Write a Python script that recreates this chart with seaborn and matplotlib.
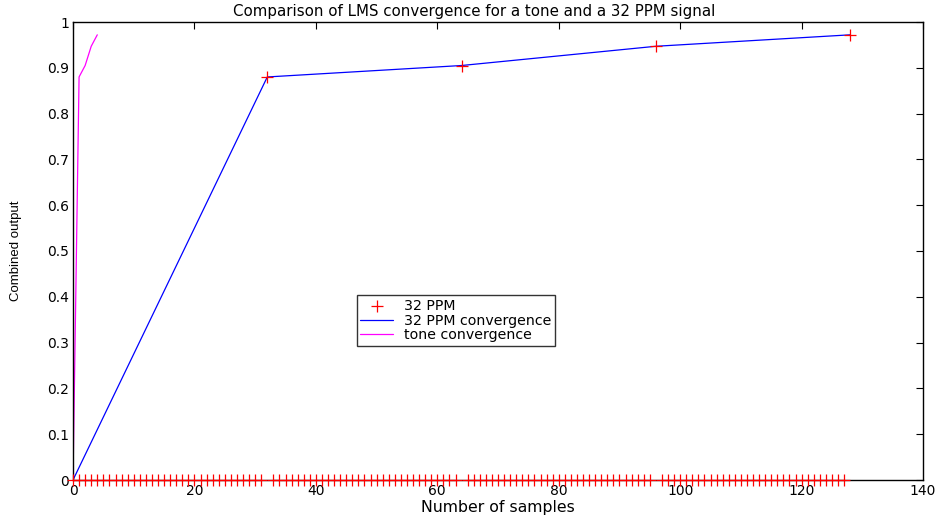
"""
Comparison of LMS convergence for a tone and a 32 PPM signal.
"""

import matplotlib
matplotlib.use('Agg')
import matplotlib.pyplot as plt
import numpy as np
import pandas as pd
import seaborn as sns

# ---------------------------------------------------------------------------
# Data
# ---------------------------------------------------------------------------

ppm_samples   = list(range(0, 129))
ppm_peak_idx  = [32, 64, 96, 128]
ppm_peak_vals = [0.88, 0.905, 0.947, 0.972]

conv_x    = [0, 32, 64, 96, 128]
conv_y    = [0.0, 0.88, 0.905, 0.947, 0.972]
tone_x    = [0, 1, 2, 3, 4]
tone_y    = [0.0, 0.88, 0.905, 0.947, 0.972]

x_ticks = [0, 20, 40, 60, 80, 100, 120, 140]
y_ticks = [0, 0.1, 0.2, 0.3, 0.4, 0.5, 0.6, 0.7, 0.8, 0.9, 1]
y_tick_labels = ['0', '0.1', '0.2', '0.3', '0.4', '0.5', '0.6',
                 '0.7', '0.8', '0.9', '1']

ppm_vals = np.zeros(len(ppm_samples))
for i, v in zip(ppm_peak_idx, ppm_peak_vals):
    ppm_vals[i] = v
ppm_df  = pd.DataFrame({'x': ppm_samples, 'y': ppm_vals})
conv_df = pd.DataFrame({'x': conv_x, 'y': conv_y})
tone_df = pd.DataFrame({'x': tone_x, 'y': tone_y})

# ---------------------------------------------------------------------------
# Plot
# ---------------------------------------------------------------------------

sns.set_style('white')
plt.rcParams['font.family'] = ['DejaVu Sans']
plt.rcParams['text.color']       = 'black'
plt.rcParams['axes.labelcolor']  = 'black'
plt.rcParams['xtick.color']      = 'black'
plt.rcParams['ytick.color']      = 'black'

fig = plt.figure(figsize=(9.4, 5.17), dpi=100)
ax  = fig.add_axes([73 / 940, 37 / 517, 850 / 940, 458 / 517])

sns.scatterplot(data=ppm_df, x='x', y='y', marker='+', s=64, color='red',
                linewidth=0.9, ax=ax, label='32 PPM', zorder=3, clip_on=False)
sns.lineplot(data=conv_df, x='x', y='y', color='blue', linewidth=0.9,
             ax=ax, label='32 PPM convergence', zorder=2)
sns.lineplot(data=tone_df, x='x', y='y', color='magenta', linewidth=0.9,
             ax=ax, label='tone convergence', zorder=2)

ax.set_xlim(0, 140)
ax.set_ylim(0, 1)
ax.set_xticks(x_ticks)
ax.set_yticks(y_ticks)
ax.set_yticklabels(y_tick_labels)
ax.tick_params(direction='in', length=5, width=0.8, top=True, right=True,
               labelsize=10, colors='black', pad=3)
for side in ax.spines.values():
    side.set_color('black')
    side.set_linewidth(1.0)

ax.set_xlabel('Number of samples', fontsize=11.3, labelpad=1, color='black')
ax.set_ylabel('Combined output', fontsize=9.5, labelpad=18,
              family=['Liberation Sans'], color='black')
ax.set_title('Comparison of LMS convergence for a tone and a 32 PPM signal',
             fontsize=10.8, pad=4, x=0.472, color='black')

leg = ax.legend(loc='lower left', bbox_to_anchor=(0.334, 0.293),
                fontsize=10.2, frameon=True, fancybox=False,
                borderpad=0.25, labelspacing=0.05, handlelength=2.3,
                handletextpad=0.8, borderaxespad=0)
leg.get_frame().set_edgecolor('black')
leg.get_frame().set_linewidth(1.0)
for t in leg.get_texts():
    t.set_color('black')

fig.savefig('out.png', dpi=100, facecolor='white')
